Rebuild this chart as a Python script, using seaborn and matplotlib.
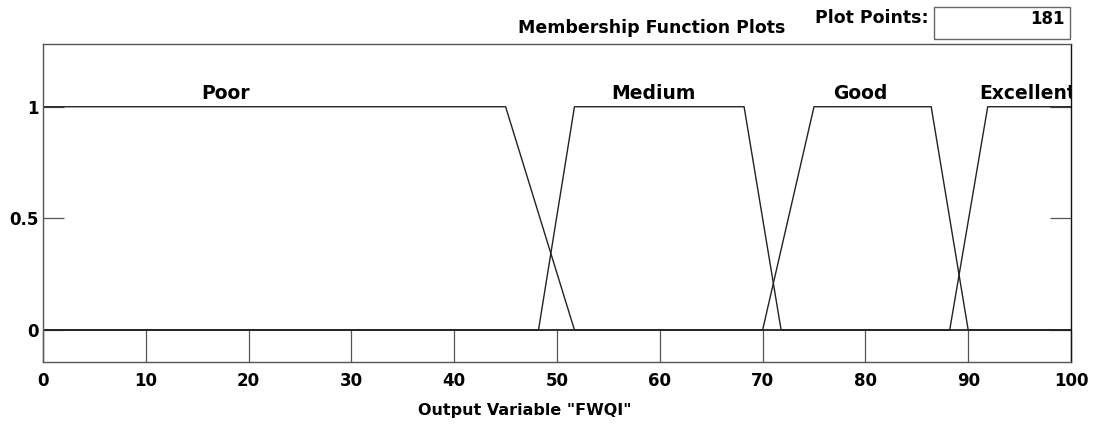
import numpy as np
import pandas as pd
import matplotlib
matplotlib.use("Agg")
import matplotlib.pyplot as plt
from matplotlib.patches import Rectangle
import seaborn as sns

# ---- data ----
mf_names = ["Poor", "Medium", "Good", "Excellent"]
# trapezoid parameters [a, b, c, d]
poor_params = [0.0, 0.0, 45.0, 51.7]
medium_params = [48.2, 51.7, 68.2, 71.8]
good_params = [70.0, 75.0, 86.4, 90.0]
excellent_params = [88.2, 91.9, 100.0, 100.0]
label_x = [17.8, 59.4, 79.5, 95.8]
x_range = [0, 100]
x_ticks = [0, 10, 20, 30, 40, 50, 60, 70, 80, 90, 100]
y_ticks = [0, 0.5, 1]
y_tick_labels = ["0", "0.5", "1"]
plot_points = 181

sns.set_theme(style="white")
plt.rcParams["font.family"] = ["DejaVu Sans"]
plt.rcParams["font.weight"] = "bold"
plt.rcParams["text.color"] = "black"
plt.rcParams["axes.labelcolor"] = "black"
plt.rcParams["xtick.color"] = "black"
plt.rcParams["ytick.color"] = "black"


def trap_vertices(p, lo, hi):
    a, b, c, d = p
    xs, ys = [], []
    if a > lo:
        xs += [lo, a]
        ys += [0, 0]
    xs += [b, c]
    ys += [1, 1]
    if d < hi:
        xs += [d, hi]
        ys += [0, 0]
    elif c < hi:
        xs += [hi]
        ys += [1]
    return xs, ys


rows = []
for name, p in zip(mf_names, [poor_params, medium_params, good_params, excellent_params]):
    xs, ys = trap_vertices(p, x_range[0], x_range[1])
    for i, (xv, yv) in enumerate(zip(xs, ys)):
        rows.append({"mf": name, "order": i, "x": xv, "mu": yv})
df = pd.DataFrame(rows)

W, H = 1098, 428
fig = plt.figure(figsize=(W / 100, H / 100), dpi=100)
fig.patch.set_facecolor("white")
ax = fig.add_axes([43 / W, 1 - 361.7 / H, 1028 / W, (361.7 - 44) / H])
ax.set_facecolor("white")

sns.lineplot(data=df, x="x", y="mu", units="mf", estimator=None, sort=False,
             color="#222222", linewidth=1.0, ax=ax, legend=False)

ax.set_xlim(x_range)
ax.set_ylim(-0.142, 1.281)
ax.set_xticks(x_ticks)
ax.set_xticklabels([str(t) for t in x_ticks], fontsize=12, fontweight="bold", color="black")
ax.set_yticks(y_ticks)
ax.set_yticklabels(y_tick_labels, fontsize=12, fontweight="bold", color="black")
ax.set_xlabel("")
ax.set_ylabel("")
ax.tick_params(axis="x", direction="in", length=22.8, width=0.9, color="#555555",
               pad=7.5, labelcolor="black", bottom=True, top=False)
ax.tick_params(axis="y", direction="in", length=15, width=0.9, color="#555555",
               pad=3, labelcolor="black", left=True, right=True)
for s in ax.spines.values():
    s.set_visible(True)
    s.set_color("#555555")
    s.set_linewidth(1.0)
ax.spines["right"].set_color("#111111")

for name, lx in zip(mf_names, label_x):
    ax.text(lx, 1.036, name, ha="center", va="baseline", fontsize=13.5,
            fontweight="bold", color="black", clip_on=True)

fig.text(525 / W, 1 - 411 / H, 'Output Variable "FWQI"', ha="center", va="center",
         fontsize=11.5, fontweight="bold", color="black")
fig.text(652 / W, 1 - 28 / H, "Membership Function Plots", ha="center", va="center",
         fontsize=12.5, fontweight="bold", color="black")
fig.text(815 / W, 1 - 18 / H, "Plot Points:", ha="left", va="center",
         fontsize=12.5, fontweight="bold", color="black")
fig.patches.append(Rectangle((934 / W, 1 - 39.3 / H), 136 / W, 32 / H,
                             transform=fig.transFigure, facecolor="white",
                             edgecolor="#666666", linewidth=1.0, zorder=0))
fig.text(1065 / W, 1 - 19 / H, str(plot_points), ha="right", va="center",
         fontsize=12, fontweight="bold", color="black", zorder=5)

fig.savefig("out.png", dpi=100)
